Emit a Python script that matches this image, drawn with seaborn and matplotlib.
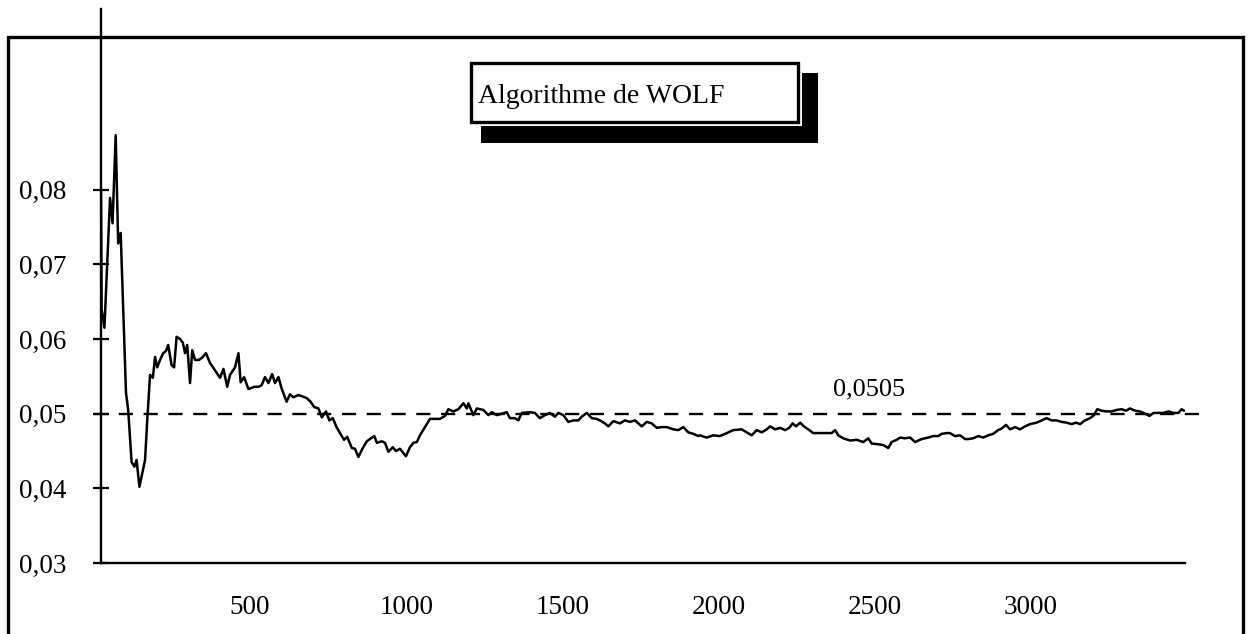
import numpy as np
import pandas as pd
import seaborn as sns
import matplotlib.pyplot as plt
from matplotlib.patches import Rectangle

# values, in pieces (iteration, estimate)
iters_a = [23, 25, 34, 52, 60, 70, 78, 86, 103, 110, 121,
           130, 137, 146, 164, 171, 180, 189, 196, 203, 212,
           222, 231, 238, 249, 257, 265, 276, 285, 292, 299,
           308, 315, 324, 337, 349, 359, 372, 388, 404, 415,
           427, 436, 452, 463, 470]
lyap_a = [0.0800, 0.0640, 0.0615, 0.0789, 0.0755, 0.0873, 0.0728, 0.0742, 0.0528, 0.0505, 0.0435,
          0.0429, 0.0438, 0.0402, 0.0438, 0.0491, 0.0552, 0.0548, 0.0576, 0.0562, 0.0572,
          0.0581, 0.0584, 0.0592, 0.0565, 0.0562, 0.0603, 0.0600, 0.0595, 0.0581, 0.0592,
          0.0541, 0.0585, 0.0572, 0.0572, 0.0576, 0.0581, 0.0568, 0.0558, 0.0548, 0.0560,
          0.0536, 0.0552, 0.0562, 0.0581, 0.0542]

iters_b = [481, 495, 514, 527, 537, 548, 559, 571, 580, 591,
           601, 617, 628, 639, 655, 681, 694, 705, 719, 730,
           743, 754, 765, 777, 788, 801, 811, 826, 836, 847,
           861, 874, 887, 898, 906, 922, 932, 943, 957, 967,
           980, 999, 1012, 1023, 1034, 1044, 1060, 1076, 1108, 1124,
           1135, 1151, 1167]
lyap_b = [0.0549, 0.0533, 0.0536, 0.0536, 0.0538, 0.0549, 0.0541, 0.0553, 0.0541, 0.0549,
          0.0534, 0.0516, 0.0526, 0.0522, 0.0525, 0.0521, 0.0516, 0.0509, 0.0507, 0.0495,
          0.0503, 0.0491, 0.0494, 0.0482, 0.0474, 0.0465, 0.0469, 0.0454, 0.0453, 0.0442,
          0.0454, 0.0463, 0.0467, 0.0470, 0.0461, 0.0463, 0.0461, 0.0449, 0.0455, 0.0450,
          0.0453, 0.0443, 0.0455, 0.0461, 0.0462, 0.0471, 0.0482, 0.0493, 0.0493, 0.0497,
          0.0506, 0.0503, 0.0506]

iters_c = [1183, 1194, 1199, 1215, 1226, 1247, 1263, 1274, 1290, 1306,
           1322, 1332, 1348, 1359, 1370, 1396, 1412, 1428, 1444, 1460,
           1476, 1487, 1503, 1519, 1535, 1551, 1562, 1578, 1594, 1610,
           1620, 1636, 1647, 1663, 1684, 1700, 1716, 1732, 1754, 1770,
           1786, 1802, 1818, 1834, 1855, 1871, 1887, 1903, 1919, 1935]
lyap_c = [0.0514, 0.0507, 0.0514, 0.0498, 0.0507, 0.0505, 0.0498, 0.0502, 0.0498, 0.0500,
          0.0502, 0.0494, 0.0494, 0.0491, 0.0501, 0.0502, 0.0501, 0.0494, 0.0498, 0.0501,
          0.0496, 0.0501, 0.0498, 0.0489, 0.0491, 0.0491, 0.0496, 0.0501, 0.0494, 0.0493,
          0.0491, 0.0487, 0.0483, 0.0490, 0.0487, 0.0491, 0.0489, 0.0491, 0.0483, 0.0489,
          0.0487, 0.0481, 0.0482, 0.0482, 0.0479, 0.0478, 0.0482, 0.0475, 0.0473, 0.0470]

iters_d = [1940, 1962, 1983, 2004, 2026, 2047, 2074, 2090, 2106, 2122,
           2138, 2154, 2165, 2181, 2197, 2213, 2226, 2237, 2248, 2261,
           2273, 2287, 2303, 2346, 2362, 2373, 2383, 2399, 2421, 2442,
           2463, 2479, 2490, 2511, 2527, 2543, 2554, 2570, 2581, 2597,
           2613, 2629, 2650, 2671, 2687, 2703, 2714, 2730]
lyap_d = [0.0471, 0.0468, 0.0471, 0.0470, 0.0474, 0.0478, 0.0479, 0.0475, 0.0471, 0.0478,
          0.0475, 0.0479, 0.0483, 0.0479, 0.0481, 0.0478, 0.0481, 0.0487, 0.0483, 0.0488,
          0.0483, 0.0479, 0.0474, 0.0474, 0.0474, 0.0478, 0.0471, 0.0467, 0.0464, 0.0465,
          0.0462, 0.0467, 0.0460, 0.0459, 0.0458, 0.0454, 0.0462, 0.0465, 0.0468, 0.0467,
          0.0468, 0.0462, 0.0466, 0.0468, 0.0470, 0.0470, 0.0473, 0.0474]

iters_e = [2740, 2757, 2773, 2789, 2799, 2815, 2831, 2847, 2863, 2879,
           2895, 2906, 2920, 2933, 2949, 2965, 2981, 2997, 3018, 3034,
           3050, 3066, 3082, 3098, 3114, 3130, 3144, 3157, 3173, 3189,
           3202, 3212, 3226, 3242, 3258, 3274, 3290, 3304, 3317, 3333,
           3349, 3365, 3379, 3392, 3408, 3424, 3440, 3456, 3472, 3482,
           3490]
lyap_e = [0.0474, 0.0470, 0.0471, 0.0466, 0.0466, 0.0467, 0.0470, 0.0468, 0.0471, 0.0473,
          0.0478, 0.0480, 0.0485, 0.0479, 0.0482, 0.0479, 0.0483, 0.0486, 0.0488, 0.0491,
          0.0494, 0.0491, 0.0491, 0.0489, 0.0488, 0.0486, 0.0488, 0.0486, 0.0491, 0.0494,
          0.0498, 0.0506, 0.0504, 0.0503, 0.0503, 0.0505, 0.0506, 0.0504, 0.0507, 0.0504,
          0.0503, 0.0500, 0.0497, 0.0501, 0.0501, 0.0501, 0.0503, 0.0501, 0.0501, 0.0506,
          0.0504]

ref_value = 0.05
ref_label = '0,0505'
title_text = 'Algorithme de WOLF'
yticks = [0.03, 0.04, 0.05, 0.06, 0.07, 0.08]
ytick_labels = ['0,03', '0,04', '0,05', '0,06', '0,07', '0,08']
xticks = [500, 1000, 1500, 2000, 2500, 3000]
xtick_labels = ['500', '1000', '1500', '2000', '2500', '3000']

df = pd.DataFrame({'iter': iters_a + iters_b + iters_c + iters_d + iters_e,
                   'lyap': lyap_a + lyap_b + lyap_c + lyap_d + lyap_e})

sns.set_style('white')
plt.rcParams['font.family'] = ['Liberation Serif', 'DejaVu Serif']
plt.rcParams['text.color'] = 'black'
plt.rcParams['xtick.color'] = 'black'
plt.rcParams['ytick.color'] = 'black'

W, H = 1253, 634
fig = plt.figure(figsize=(W / 100, H / 100), dpi=100)
ax = fig.add_axes([101 / W, 1 - 563 / H, (1185 - 101) / W, (563 - 9) / H])

sns.lineplot(data=df, x='iter', y='lyap', ax=ax, color='black', lw=1.8)
ax.plot([0, 3545], [ref_value, ref_value], color='black', lw=1.7,
        dashes=(6, 4.5), clip_on=False)
ax.text(2366, 0.0524, ref_label, fontsize=19, ha='left', va='baseline')

ax.set_xlim(23, 3493)
ax.set_ylim(0.03, 0.1042)
ax.set_xticks(xticks)
ax.set_xticklabels(xtick_labels, fontsize=19.5)
ax.set_yticks(yticks)
ax.set_yticklabels(ytick_labels, fontsize=19.5)
ax.tick_params(axis='x', bottom=False, length=0, pad=23, labelcolor='black')
ax.tick_params(axis='y', left=True, direction='inout', length=12, width=1.6,
               color='black', labelcolor='black', pad=19)
ax.set_xlabel('')
ax.set_ylabel('')
for s in ['top', 'right']:
    ax.spines[s].set_visible(False)
for s in ['left', 'bottom']:
    ax.spines[s].set_linewidth(1.7)
    ax.spines[s].set_color('black')

# outer frame
fig.patches.append(Rectangle((8 / W, -0.05), (1243 - 8) / W, 1.05 - 36.5 / H,
                             transform=fig.transFigure, fill=False,
                             edgecolor='black', lw=2.4, zorder=0))

# title box with its shadow
fig.patches.append(Rectangle((481 / W, 1 - 143 / H), (818 - 481) / W, (143 - 73) / H,
                             transform=fig.transFigure, facecolor='black',
                             edgecolor='none', zorder=5))
fig.patches.append(Rectangle((467 / W, 1 - 126 / H), (802 - 467) / W, (126 - 59) / H,
                             transform=fig.transFigure, facecolor='white',
                             edgecolor='none', zorder=6))
fig.patches.append(Rectangle((471 / W, 1 - 122 / H), (798 - 471) / W, (122 - 63) / H,
                             transform=fig.transFigure, facecolor='white',
                             edgecolor='black', lw=2.4, zorder=7))
fig.text(478 / W, 1 - 103 / H, title_text, fontsize=20, ha='left', va='baseline',
         color='black', zorder=8)

fig.savefig('out.png', dpi=100)
